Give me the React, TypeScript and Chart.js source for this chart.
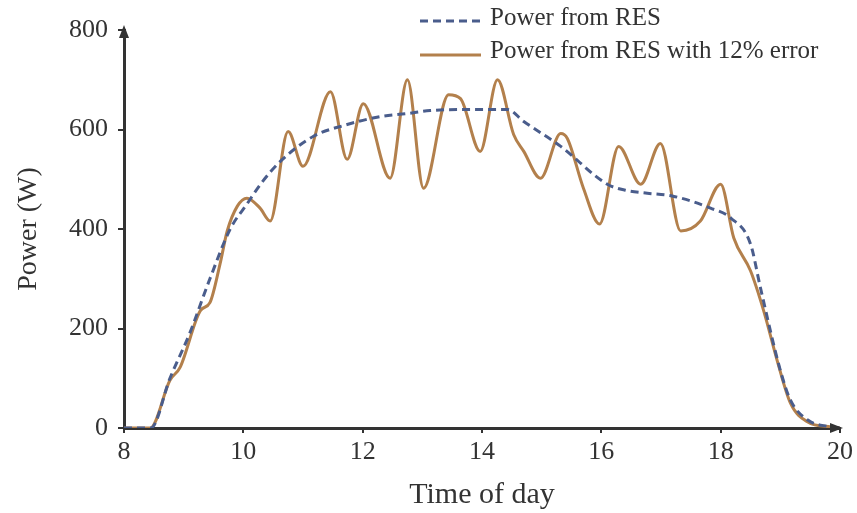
import { useEffect, useRef } from "react";
import { Chart, registerables } from "chart.js";

Chart.register(...registerables);

// ---- Data ----
const resTimes = [8, 8.45, 8.77, 9.1, 9.44, 9.78, 10.06, 10.3, 10.62, 11.17, 11.74, 12.3, 12.75, 13.13, 13.64, 14.43, 14.7, 15.32, 16.1, 16.4, 16.77, 17.2, 17.83, 18.17, 18.5, 18.67, 19.0, 19.17, 19.46, 19.8, 20];
const resPower = [0, 0, 100, 190, 300, 400, 450, 492, 536, 586, 610, 626, 632, 638, 640, 640, 616, 566, 490, 478, 472, 466, 442, 422, 370, 280, 116, 56, 16, 3, 0];

const errTimes = [8, 8.44, 8.77, 8.94, 9.28, 9.44, 9.61, 9.73, 9.9, 10.06, 10.28, 10.45, 10.75, 11.0, 11.46, 11.74, 12.01, 12.46, 12.75, 13.02, 13.44, 13.64, 13.97, 14.26, 14.53, 14.7, 14.98, 15.32, 15.43, 15.7, 15.97, 16.29, 16.66, 16.99, 17.33, 17.66, 18.0, 18.22, 18.5, 18.72, 18.96, 19.17, 19.46, 19.85, 20];
const errPower = [0, 0, 96, 122, 236, 252, 330, 396, 446, 462, 442, 416, 596, 526, 676, 540, 652, 502, 700, 482, 670, 662, 556, 700, 590, 556, 502, 592, 582, 482, 410, 566, 490, 572, 396, 416, 490, 382, 316, 236, 130, 50, 12, 2, 0];

const xTickValues = [8, 10, 12, 14, 16, 18, 20];
const yTickValues = [0, 200, 400, 600, 800];

const seriesLabels = ["Power from RES", "Power from RES with 12% error"];
const xTitle = "Time of day";
const yTitle = "Power (W)";

const FONT = "'Liberation Serif', 'Times New Roman', serif";
const AXIS = "#333333";
const TEXT = "#333333";
const DASH_COLOR = "#4a5d8c";
const SOLID_COLOR = "#b3804c";

const arrowPlugin = {
  id: "axisArrows",
  afterDraw(chart: any) {
    const { ctx, chartArea: a } = chart;
    ctx.save();
    ctx.fillStyle = AXIS;
    ctx.beginPath();
    ctx.moveTo(a.left, a.top - 5);
    ctx.lineTo(a.left - 5, a.top + 8);
    ctx.lineTo(a.left + 5, a.top + 8);
    ctx.closePath();
    ctx.fill();
    ctx.beginPath();
    ctx.moveTo(a.right + 3, a.bottom);
    ctx.lineTo(a.right - 10, a.bottom - 5);
    ctx.lineTo(a.right - 10, a.bottom + 5);
    ctx.closePath();
    ctx.fill();
    ctx.restore();
  },
};

const legendPlugin = {
  id: "customLegend",
  afterDraw(chart: any) {
    const { ctx } = chart;
    const x0 = 420;
    const x1 = 481;
    const rows = [
      { y: 18, lineY: 21, ds: chart.data.datasets[0] },
      { y: 51, lineY: 55, ds: chart.data.datasets[1] },
    ];
    ctx.save();
    ctx.font = `25px ${FONT}`;
    ctx.textBaseline = "middle";
    ctx.textAlign = "left";
    for (const r of rows) {
      ctx.strokeStyle = r.ds.borderColor;
      ctx.lineWidth = r.ds.borderWidth;
      ctx.setLineDash(r.ds.borderDash || []);
      ctx.beginPath();
      ctx.moveTo(x0, r.lineY);
      ctx.lineTo(x1, r.lineY);
      ctx.stroke();
      ctx.setLineDash([]);
      ctx.fillStyle = TEXT;
      ctx.fillText(r.ds.label, 490, r.y);
    }
    ctx.restore();
  },
};

export default function App() {
  const ref = useRef<HTMLCanvasElement | null>(null);

  useEffect(() => {
    if (!ref.current) return;
    const chart = new Chart(ref.current, {
      type: "line",
      data: {
        datasets: [
          {
            label: seriesLabels[0],
            data: resTimes.map((t, i) => ({ x: t, y: resPower[i] })),
            borderColor: DASH_COLOR,
            borderWidth: 3,
            borderDash: [8, 5],
            pointRadius: 0,
            cubicInterpolationMode: "monotone",
            fill: false,
          },
          {
            label: seriesLabels[1],
            data: errTimes.map((t, i) => ({ x: t, y: errPower[i] })),
            borderColor: SOLID_COLOR,
            borderWidth: 3,
            pointRadius: 0,
            cubicInterpolationMode: "monotone",
            fill: false,
          },
        ],
      },
      options: {
        animation: false,
        responsive: false,
        events: [],
        layout: { padding: { top: 30, right: 17, left: 0, bottom: 0 } },
        plugins: {
          legend: { display: false },
          tooltip: { enabled: false },
        },
        scales: {
          x: {
            type: "linear",
            min: 8,
            max: 20,
            afterFit: (s: any) => {
              s.height = 85;
            },
            afterBuildTicks: (s: any) => {
              s.ticks = xTickValues.map((v) => ({ value: v }));
            },
            ticks: {
              font: { family: FONT, size: 26 },
              color: TEXT,
              padding: 4,
              maxRotation: 0,
              autoSkip: false,
            },
            grid: {
              display: true,
              drawOnChartArea: false,
              drawTicks: true,
              tickLength: 5,
              color: AXIS,
              lineWidth: 2,
            },
            border: { display: true, color: AXIS, width: 3 },
            title: {
              display: true,
              text: xTitle,
              font: { family: FONT, size: 30 },
              color: TEXT,
              padding: { top: 0, bottom: 0 },
            },
          },
          y: {
            type: "linear",
            min: 0,
            max: 800,
            afterFit: (s: any) => {
              s.width = 124;
            },
            afterBuildTicks: (s: any) => {
              s.ticks = yTickValues.map((v) => ({ value: v }));
            },
            ticks: {
              font: { family: FONT, size: 26 },
              color: TEXT,
              padding: 10,
            },
            grid: {
              display: true,
              drawOnChartArea: false,
              drawTicks: true,
              tickLength: 6,
              color: AXIS,
              lineWidth: 2,
            },
            border: { display: true, color: AXIS, width: 3 },
            title: {
              display: true,
              text: yTitle,
              font: { family: FONT, size: 28 },
              color: TEXT,
              padding: { top: 12, bottom: 0 },
            },
          },
        },
      },
      plugins: [arrowPlugin, legendPlugin],
    } as any);
    return () => chart.destroy();
  }, []);

  return (
    <div style={{ position: "absolute", left: 0, top: 0, width: 857, height: 513, background: "#fff" }}>
      <canvas ref={ref} width={857} height={513} style={{ display: "block", width: 857, height: 513 }} />
    </div>
  );
}
